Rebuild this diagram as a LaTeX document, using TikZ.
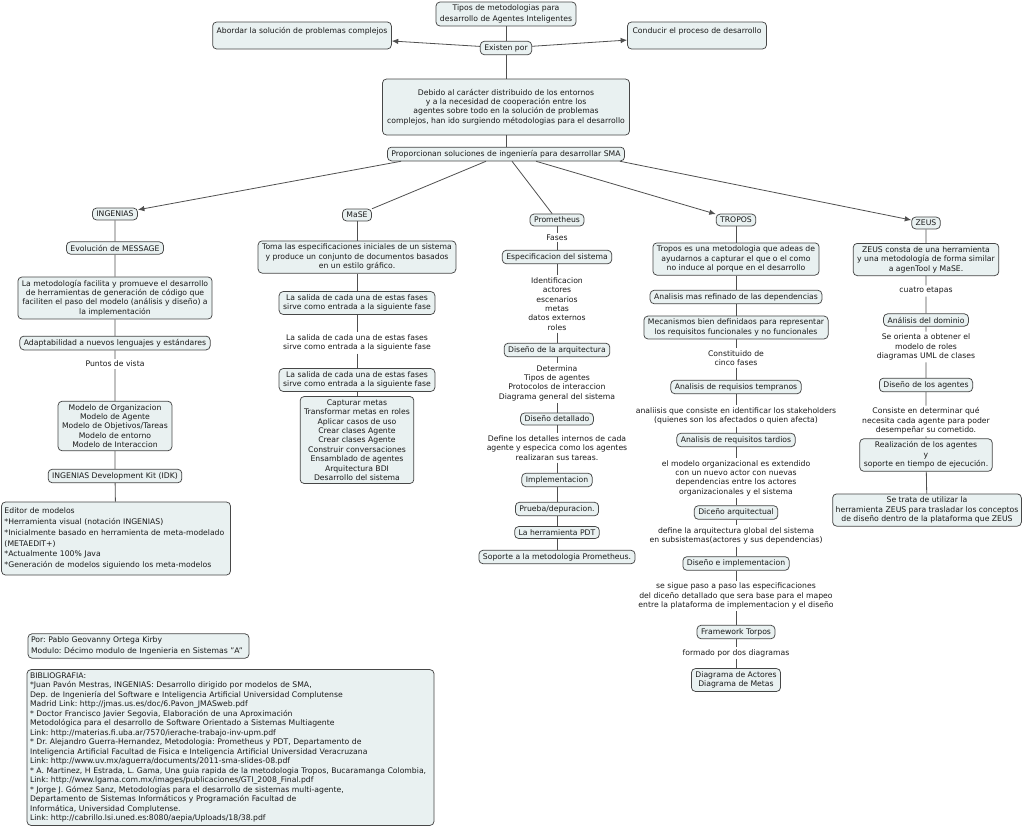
\documentclass[tikz,border=0pt]{standalone}
\usepackage{fontspec}
\setmainfont{DejaVu Sans}
\usetikzlibrary{arrows.meta}
\definecolor{boxfill}{HTML}{E9F1F1}
\definecolor{boxdraw}{HTML}{474747}
\definecolor{linecol}{HTML}{505050}
\definecolor{txt}{HTML}{1A1A1A}
\tikzset{
  cbox/.style={draw=boxdraw, fill=boxfill, rounded corners=4pt, line width=0.75pt,
    inner xsep=4pt, inner ysep=3pt, align=center, text=txt,
    font=\fontsize{7.7}{9.4}\selectfont\frenchspacing},
  lbl/.style={inner xsep=2pt, inner ysep=2pt, align=center, text=txt,
    font=\fontsize{7.7}{9.4}\selectfont\frenchspacing},
  conn/.style={draw=linecol, line width=0.8pt},
  arr/.style={conn, -{Latex[length=6.5pt,width=5.5pt]}},
}
\begin{document}
\begin{tikzpicture}[x=1pt,y=-1pt]
\useasboundingbox[fill=white] (0,0) rectangle (1024,828);

% ---- top ----
\node[cbox, font=\fontsize{7.7}{10.5}\selectfont] (tipos) at (506,14) {Tipos de metodologias para\\desarrollo de Agentes Inteligentes};
\node[cbox, text height=8pt, text depth=13pt] (abordar) at (302,35.5) {Abordar la solución de problemas complejos};
\node[cbox, text height=8pt, text depth=13pt, minimum width=139pt] (conducir) at (697,35.5) {Conducir el proceso de desarrollo};
\node[cbox] (existen) at (506,48) {Existen por};
\node[cbox, minimum height=56pt, minimum width=247pt] (debido) at (506,107) {Debido al carácter distribuido de los entornos\\ y a la necesidad de cooperación entre los\\agentes sobre todo en la solución de problemas\\complejos, han ido surgiendo métodologias para el desarrollo};
\node[cbox] (prop) at (506,154) {Proporcionan soluciones de ingeniería para desarrollar SMA};

% ---- INGENIAS ----
\node[cbox] (ing) at (115,214) {INGENIAS};
\node[cbox] (evol) at (115,248) {Evolución de MESSAGE};
\node[cbox] (metod) at (115,298) {La metodología facilita y promueve el desarrollo\\de herramientas de generación de código que\\faciliten el paso del modelo (análisis y diseño) a\\la implementación};
\node[cbox] (adapt) at (115,343) {Adaptabilidad a nuevos lenguajes y estándares};
\node[lbl] (puntos) at (115,364) {Puntos de vista};
\node[cbox] (modelos) at (115,426) {Modelo de Organizacion\\Modelo de Agente\\Modelo de Objetivos/Tareas\\Modelo de entorno\\Modelo de Interaccion};
\node[cbox] (idk) at (115,476) {INGENIAS Development Kit (IDK)};
\node[cbox, align=left, inner xsep=3pt, text width=223pt, font=\fontsize{7.7}{10.8}\selectfont\frenchspacing, minimum height=73pt] (editor) at (116,538.5) {Editor de modelos\\{*}Herramienta visual (notación INGENIAS)\\{*}Inicialmente basado en herramienta de meta-modelado\\(METAEDIT+)\\{*}Actualmente 100\% Java\\{*}Generación de modelos siguiendo los meta-modelos};

% ---- MaSE ----
\node[cbox] (mase) at (357,215) {MaSE};
\node[cbox] (toma) at (357,257) {Toma las especificaciones iniciales de un sistema\\y produce un conjunto de documentos basados\\en un estilo gráfico.};
\node[cbox] (sal1) at (357,303) {La salida de cada una de estas fases\\sirve como entrada a la siguiente fase};
\node[lbl] (sallbl) at (357,343) {La salida de cada una de estas fases\\sirve como entrada a la siguiente fase};
\node[cbox] (sal2) at (357,380) {La salida de cada una de estas fases\\sirve como entrada a la siguiente fase};
\node[cbox] (captura) at (357,440) {Capturar metas\\Transformar metas en roles\\Aplicar casos de uso\\Crear clases Agente\\Crear clases Agente\\Construir conversaciones\\Ensamblado de agentes\\Arquitectura BDI\\Desarrollo del sistema};

% ---- Prometheus ----
\node[cbox] (prom) at (557,220) {Prometheus};
\node[lbl, inner ysep=1pt] (fases) at (557,237.5) {Fases};
\node[cbox] (espec) at (557,257) {Especificacion del sistema};
\node[lbl] (ident) at (557,304) {Identificacion\\actores\\escenarios\\metas\\datos externos\\roles};
\node[cbox] (disarq) at (557,350) {Diseño de la arquitectura};
\node[lbl] (determ) at (557,383) {Determina\\Tipos de agentes\\Protocolos de interaccion\\Diagrama general del sistema};
\node[cbox] (disdet) at (557,419) {Diseño detallado};
\node[lbl] (define) at (557,448) {Define los detalles internos de cada\\agente y especica como los agentes\\realizaran sus tareas.};
\node[cbox] (impl) at (557,480) {Implementacion};
\node[cbox] (prueba) at (557,509) {Prueba/depuracion.};
\node[cbox] (pdt) at (557,532.5) {La herramienta PDT};
\node[cbox] (soporte) at (557,557) {Soporte a la metodologia Prometheus.};

% ---- TROPOS ----
\node[cbox] (tropos) at (736,220) {TROPOS};
\node[cbox] (tres) at (736,259) {Tropos es una metodologia que adeas de\\ayudarnos a capturar el que o el como\\no induce al porque en el desarrollo};
\node[cbox] (anref) at (736,297) {Analisis mas refinado de las dependencias};
\node[cbox] (mecan) at (736,327.5) {Mecanismos bien definidaos para representar\\los requisitos funcionales y no funcionales};
\node[lbl] (const) at (736,358) {Constituido de\\cinco fases};
\node[cbox] (antemp) at (736,387) {Analisis de requisios tempranos};
\node[lbl] (analiisis) at (736,416) {analiisis que consiste en identificar los stakeholders\\(quienes son los afectados o quien afecta)};
\node[cbox] (antard) at (736,440) {Analisis de requisitos tardios};
\node[lbl] (elmodelo) at (736,478) {el modelo organizacional es extendido\\con un nuevo actor con nuevas\\dependencias entre los actores\\organizacionales y el sistema};
\node[cbox] (dicen) at (736,512.5) {Diceño arquitectual};
\node[lbl] (defarq) at (736,536) {define la arquitectura global del sistema\\en subsistemas(actores y sus dependencias)};
\node[cbox] (disimpl) at (736,563.5) {Diseño e implementacion};
\node[lbl] (sesigue) at (736,596) {se sigue paso a paso las especificaciones\\del diceño detallado que sera base para el mapeo\\entre la plataforma de implementacion y el diseño};
\node[cbox] (framew) at (736,632) {Framework Torpos};
\node[lbl] (formado) at (736,653) {formado por dos diagramas};
\node[cbox] (diagr) at (736,680) {Diagrama de Actores\\Diagrama de Metas};

% ---- ZEUS ----
\node[cbox] (zeus) at (926,223) {ZEUS};
\node[cbox] (consta) at (926,259.5) {ZEUS consta de una herramienta\\y una metodología de forma similar\\a agenTool y MaSE.};
\node[lbl] (cuatro) at (926,291) {cuatro etapas};
\node[cbox] (andom) at (926,320) {Análisis del dominio};
\node[lbl] (seorienta) at (926,347) {Se orienta a obtener el\\modelo de roles\\diagramas UML de clases};
\node[cbox] (disag) at (926,385) {Diseño de los agentes};
\node[lbl] (consiste) at (926,421) {Consiste en determinar qué\\necesita cada agente para poder\\desempeñar su cometido.};
\node[cbox] (realiz) at (926,455) {Realización de los agentes\\y\\soporte en tiempo de ejecución.};
\node[cbox, inner xsep=3pt] (setrata) at (927,510) {Se trata de utilizar la\\herramienta ZEUS para trasladar los conceptos\\de diseño dentro de la plataforma que ZEUS};

% ---- bottom left ----
\node[cbox, align=left, inner xsep=3pt, text width=215pt, font=\fontsize{7.7}{11}\selectfont\frenchspacing] (por) at (138.5,646) {Por: Pablo Geovanny Ortega Kirby\\Modulo: Décimo modulo de Ingenieria en Sistemas "A"};
\node[cbox, align=left, inner xsep=3pt, text width=401pt, font=\fontsize{7.7}{9.5}\selectfont\frenchspacing] (biblio) at (230.5,747.5) {BIBLIOGRAFIA:\\
{*}Juan Pavón Mestras, INGENIAS: Desarrollo dirigido por modelos de SMA,\\
Dep. de Ingeniería del Software e Inteligencia Artificial Universidad Complutense\\
Madrid Link: http://jmas.us.es/doc/6.Pavon\_JMASweb.pdf\\
{*} Doctor Francisco Javier Segovia, Elaboración de una Aproximación\\
Metodológica para el desarrollo de Software Orientado a Sistemas Multiagente\\
Link: http://materias.fi.uba.ar/7570/ierache-trabajo-inv-upm.pdf\\
{*} Dr. Alejandro Guerra-Hernandez, Metodologia: Prometheus y PDT, Departamento de\\
Inteligencia Artificial Facultad de Fisica e Inteligencia Artificial Universidad Veracruzana\\
Link: http://www.uv.mx/aguerra/documents/2011-sma-slides-08.pdf\\
{*} A. Martinez, H Estrada, L. Gama, Una guia rapida de la metodologia Tropos, Bucaramanga Colombia,\\
Link: http://www.lgama.com.mx/images/publicaciones/GTI\_2008\_Final.pdf\\
{*} Jorge J. Gómez Sanz, Metodologías para el desarrollo de sistemas multi-agente,\\
Departamento de Sistemas Informáticos y Programación Facultad de\\
Informática, Universidad Complutense.\\
Link: http://cabrillo.lsi.uned.es:8080/aepia/Uploads/18/38.pdf};

% ---- connectors ----
\draw[conn] (tipos) -- (existen);
\draw[arr] (existen) -- (abordar);
\draw[arr] (existen) -- (conducir);
\draw[conn] (existen) -- (debido);
\draw[conn] (debido) -- (prop);
\draw[arr] ([xshift=14pt]prop.south west) -- (ing);
\draw[conn] ([xshift=-20pt]prop.south) -- (mase);
\draw[conn] ([xshift=6pt]prop.south) -- (prom);
\draw[arr] ([xshift=30pt]prop.south) -- (tropos);
\draw[arr] ([xshift=-5pt]prop.south east) -- (zeus);

\draw[conn] (ing) -- (evol) -- (metod) -- (adapt) -- (puntos) -- (modelos) -- (idk) -- (editor);
\draw[conn] (mase) -- (toma) -- (sal1) -- (sallbl) -- (sal2) -- (captura);
\draw[conn] (prom) -- (fases) -- (espec) -- (ident) -- (disarq) -- (determ) -- (disdet) -- (define) -- (impl) -- (prueba) -- (pdt) -- (soporte);
\draw[conn] (tropos) -- (tres) -- (anref) -- (mecan) -- (const) -- (antemp) -- (analiisis) -- (antard) -- (elmodelo) -- (dicen) -- (defarq) -- (disimpl) -- (sesigue) -- (framew) -- (formado) -- (diagr);
\draw[conn] (zeus) -- (consta) -- (cuatro) -- (andom) -- (seorienta) -- (disag) -- (consiste) -- (realiz) -- (setrata);
\end{tikzpicture}
\end{document}
